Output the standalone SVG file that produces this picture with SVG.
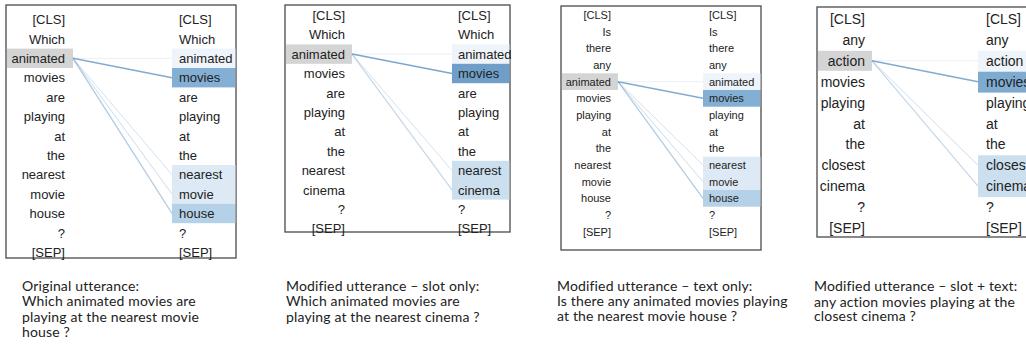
<svg xmlns="http://www.w3.org/2000/svg" width="1026" height="353" viewBox="0 0 1026 353">
<style>
.frame{fill:none;stroke:#4a4a4a;stroke-width:1.3}
.tk{font-family:"Liberation Sans",Arial,sans-serif;fill:#222}
.f13{font-size:13px}.f11{font-size:11px}.f14{font-size:14px}
.L{text-anchor:end}
.sel{fill:#d4d4d4}
.w1{fill:#eef4f9}.w2{fill:#dde9f4}.w3{fill:#b4d1e7}.w4{fill:#82afd3}.w5{fill:#cbdfee}
.cap{font-family:Lato,"Liberation Sans",sans-serif;font-size:14px;letter-spacing:0.15px;fill:#222}
.ln{stroke:#6d9cc6;fill:none}
</style>
<rect width="1026" height="353" fill="#fff"/>

<!-- Panel 1 -->
<g id="panel1">
<rect class="frame" x="6" y="5" width="230" height="253"/>
<rect class="sel" x="7" y="48.6" width="66" height="19.4"/>
<rect class="w1" x="172" y="48.6" width="63.4" height="19.4"/>
<rect class="w4" x="172" y="68" width="63.4" height="19.4"/>
<rect class="w2" x="172" y="165" width="63.4" height="38.8"/>
<rect class="w3" x="172" y="203.8" width="63.4" height="19.4"/>
<g class="tk f13 L">
<g id="p1-l0"><text x="65" y="24.1">[CLS]</text></g>
<g id="p1-l1"><text x="65" y="43.5">Which</text></g>
<g id="p1-l2"><text x="65" y="62.9">animated</text></g>
<g id="p1-l3"><text x="65" y="82.3">movies</text></g>
<g id="p1-l4"><text x="65" y="101.7">are</text></g>
<g id="p1-l5"><text x="65" y="121.1">playing</text></g>
<g id="p1-l6"><text x="65" y="140.5">at</text></g>
<g id="p1-l7"><text x="65" y="159.9">the</text></g>
<g id="p1-l8"><text x="65" y="179.3">nearest</text></g>
<g id="p1-l9"><text x="65" y="198.7">movie</text></g>
<g id="p1-l10"><text x="65" y="218.1">house</text></g>
<g id="p1-l11"><text x="65" y="237.5">?</text></g>
<g id="p1-l12"><text x="65" y="256.9">[SEP]</text></g>
</g>
<g class="tk f13">
<g id="p1-r0"><text x="179" y="24.1">[CLS]</text></g>
<g id="p1-r1"><text x="179" y="43.5">Which</text></g>
<g id="p1-r2"><text x="179" y="62.9">animated</text></g>
<g id="p1-r3"><text x="179" y="82.3">movies</text></g>
<g id="p1-r4"><text x="179" y="101.7">are</text></g>
<g id="p1-r5"><text x="179" y="121.1">playing</text></g>
<g id="p1-r6"><text x="179" y="140.5">at</text></g>
<g id="p1-r7"><text x="179" y="159.9">the</text></g>
<g id="p1-r8"><text x="179" y="179.3">nearest</text></g>
<g id="p1-r9"><text x="179" y="198.7">movie</text></g>
<g id="p1-r10"><text x="179" y="218.1">house</text></g>
<g id="p1-r11"><text x="179" y="237.5">?</text></g>
<g id="p1-r12"><text x="179" y="256.9">[SEP]</text></g>
</g>
</g>

<!-- Panel 2 -->
<g id="panel2">
<rect class="frame" x="285" y="5" width="225" height="227"/>
<rect class="sel" x="286" y="44.4" width="66" height="19.4"/>
<rect class="w1" x="452" y="44.4" width="57.4" height="19.4"/>
<rect fill="#6f9fc8" x="452" y="63.8" width="57.4" height="19.4"/>
<rect class="w5" x="452" y="160.8" width="57.4" height="38.8"/>
<g class="tk f13 L">
<g id="p2-l0"><text x="345" y="19.9">[CLS]</text></g>
<g id="p2-l1"><text x="345" y="39.3">Which</text></g>
<g id="p2-l2"><text x="345" y="58.7">animated</text></g>
<g id="p2-l3"><text x="345" y="78.1">movies</text></g>
<g id="p2-l4"><text x="345" y="97.5">are</text></g>
<g id="p2-l5"><text x="345" y="116.9">playing</text></g>
<g id="p2-l6"><text x="345" y="136.3">at</text></g>
<g id="p2-l7"><text x="345" y="155.7">the</text></g>
<g id="p2-l8"><text x="345" y="175.1">nearest</text></g>
<g id="p2-l9"><text x="345" y="194.5">cinema</text></g>
<g id="p2-l10"><text x="345" y="213.9">?</text></g>
<g id="p2-l11"><text x="345" y="233.3">[SEP]</text></g>
</g>
<g class="tk f13">
<g id="p2-r0"><text x="458" y="19.9">[CLS]</text></g>
<g id="p2-r1"><text x="458" y="39.3">Which</text></g>
<g id="p2-r2"><text x="458" y="58.7">animated</text></g>
<g id="p2-r3"><text x="458" y="78.1">movies</text></g>
<g id="p2-r4"><text x="458" y="97.5">are</text></g>
<g id="p2-r5"><text x="458" y="116.9">playing</text></g>
<g id="p2-r6"><text x="458" y="136.3">at</text></g>
<g id="p2-r7"><text x="458" y="155.7">the</text></g>
<g id="p2-r8"><text x="458" y="175.1">nearest</text></g>
<g id="p2-r9"><text x="458" y="194.5">cinema</text></g>
<g id="p2-r10"><text x="458" y="213.9">?</text></g>
<g id="p2-r11"><text x="458" y="233.3">[SEP]</text></g>
</g>
</g>

<!-- Panel 3 -->
<g id="panel3">
<rect class="frame" x="561" y="6" width="200" height="244"/>
<rect class="sel" x="562" y="73.3" width="56" height="16.7"/>
<rect class="w1" x="703" y="73.3" width="57.4" height="16.7"/>
<rect class="w4" x="703" y="90" width="57.4" height="16.7"/>
<rect class="w2" x="703" y="156.7" width="57.4" height="33.3"/>
<rect class="w3" x="703" y="190" width="57.4" height="16.7"/>
<g class="tk f11 L">
<g id="p3-l0"><text x="611" y="18.9">[CLS]</text></g>
<g id="p3-l1"><text x="611" y="35.6">Is</text></g>
<g id="p3-l2"><text x="611" y="52.2">there</text></g>
<g id="p3-l3"><text x="611" y="68.9">any</text></g>
<g id="p3-l4"><text x="611" y="85.6">animated</text></g>
<g id="p3-l5"><text x="611" y="102.2">movies</text></g>
<g id="p3-l6"><text x="611" y="118.9">playing</text></g>
<g id="p3-l7"><text x="611" y="135.6">at</text></g>
<g id="p3-l8"><text x="611" y="152.2">the</text></g>
<g id="p3-l9"><text x="611" y="168.9">nearest</text></g>
<g id="p3-l10"><text x="611" y="185.6">movie</text></g>
<g id="p3-l11"><text x="611" y="202.2">house</text></g>
<g id="p3-l12"><text x="611" y="218.9">?</text></g>
<g id="p3-l13"><text x="611" y="235.6">[SEP]</text></g>
</g>
<g class="tk f11">
<g id="p3-r0"><text x="709" y="18.9">[CLS]</text></g>
<g id="p3-r1"><text x="709" y="35.6">Is</text></g>
<g id="p3-r2"><text x="709" y="52.2">there</text></g>
<g id="p3-r3"><text x="709" y="68.9">any</text></g>
<g id="p3-r4"><text x="709" y="85.6">animated</text></g>
<g id="p3-r5"><text x="709" y="102.2">movies</text></g>
<g id="p3-r6"><text x="709" y="118.9">playing</text></g>
<g id="p3-r7"><text x="709" y="135.6">at</text></g>
<g id="p3-r8"><text x="709" y="152.2">the</text></g>
<g id="p3-r9"><text x="709" y="168.9">nearest</text></g>
<g id="p3-r10"><text x="709" y="185.6">movie</text></g>
<g id="p3-r11"><text x="709" y="202.2">house</text></g>
<g id="p3-r12"><text x="709" y="218.9">?</text></g>
<g id="p3-r13"><text x="709" y="235.6">[SEP]</text></g>
</g>
</g>

<!-- Panel 4 -->
<g id="panel4">
<rect class="frame" x="817" y="7" width="220" height="230"/>
<rect class="sel" x="818" y="50.8" width="54" height="20"/>
<rect class="w1" x="978" y="50.8" width="60" height="20.9"/>
<rect fill="#7eabd0" x="978" y="71.7" width="60" height="20.9"/>
<rect class="w5" x="978" y="155.3" width="60" height="41.8"/>
<g class="tk f14 L">
<g id="p4-l0"><text x="865" y="24">[CLS]</text></g>
<g id="p4-l1"><text x="865" y="44.9">any</text></g>
<g id="p4-l2"><text x="865" y="65.8">action</text></g>
<g id="p4-l3"><text x="865" y="86.7">movies</text></g>
<g id="p4-l4"><text x="865" y="107.6">playing</text></g>
<g id="p4-l5"><text x="865" y="128.5">at</text></g>
<g id="p4-l6"><text x="865" y="149.4">the</text></g>
<g id="p4-l7"><text x="865" y="170.3">closest</text></g>
<g id="p4-l8"><text x="865" y="191.2">cinema</text></g>
<g id="p4-l9"><text x="865" y="212.1">?</text></g>
<g id="p4-l10"><text x="865" y="233">[SEP]</text></g>
</g>
<g class="tk f14">
<g id="p4-r0"><text x="986" y="24">[CLS]</text></g>
<g id="p4-r1"><text x="986" y="44.9">any</text></g>
<g id="p4-r2"><text x="986" y="65.8">action</text></g>
<g id="p4-r3"><text x="986" y="86.7">movies</text></g>
<g id="p4-r4"><text x="986" y="107.6">playing</text></g>
<g id="p4-r5"><text x="986" y="128.5">at</text></g>
<g id="p4-r6"><text x="986" y="149.4">the</text></g>
<g id="p4-r7"><text x="986" y="170.3">closest</text></g>
<g id="p4-r8"><text x="986" y="191.2">cinema</text></g>
<g id="p4-r9"><text x="986" y="212.1">?</text></g>
<g id="p4-r10"><text x="986" y="233">[SEP]</text></g>
</g>
</g>

<!-- Connectors -->
<g id="connectors">
<path class="ln" stroke-width="1" stroke-opacity="0.15" d="M73 58.3L172 58.3"/>
<path class="ln" stroke-width="1.5" stroke-opacity="0.85" d="M73 58.3L172 77.7"/>
<path class="ln" stroke-width="1" stroke-opacity="0.3" d="M73 58.3L172 174.7"/>
<path class="ln" stroke-width="1" stroke-opacity="0.35" d="M73 58.3L172 194.1"/>
<path class="ln" stroke-width="1.3" stroke-opacity="0.55" d="M73 58.3L172 213.5"/>

<path class="ln" stroke-width="1" stroke-opacity="0.15" d="M352 54.1L452 54.1"/>
<path class="ln" stroke-width="1.5" stroke-opacity="0.9" d="M352 54.1L452 73.5"/>
<path class="ln" stroke-width="1" stroke-opacity="0.3" d="M352 54.1L452 170.5"/>
<path class="ln" stroke-width="1.2" stroke-opacity="0.4" d="M352 54.1L452 189.9"/>

<path class="ln" stroke-width="1" stroke-opacity="0.15" d="M618 81.7L703 81.7"/>
<path class="ln" stroke-width="1.4" stroke-opacity="0.85" d="M618 81.7L703 98.3"/>
<path class="ln" stroke-width="1" stroke-opacity="0.3" d="M618 81.7L703 165"/>
<path class="ln" stroke-width="1" stroke-opacity="0.35" d="M618 81.7L703 181.7"/>
<path class="ln" stroke-width="1.2" stroke-opacity="0.55" d="M618 81.7L703 198.3"/>

<path class="ln" stroke-width="1" stroke-opacity="0.15" d="M872 60.8L978 60.8"/>
<path class="ln" stroke-width="1.5" stroke-opacity="0.85" d="M872 60.8L978 81.7"/>
<path class="ln" stroke-width="1" stroke-opacity="0.35" d="M872 60.8L978 165.3"/>
<path class="ln" stroke-width="1.2" stroke-opacity="0.4" d="M872 60.8L978 186.2"/>
</g>

<!-- Captions -->
<g id="captions" class="cap">
<text x="22" y="291">Original utterance:</text>
<text x="22" y="306">Which animated movies are</text>
<text x="22" y="321.5">playing at the nearest movie</text>
<text x="22" y="336.5">house ?</text>
<text x="286" y="291">Modified utterance – slot only:</text>
<text x="286" y="306">Which animated movies are</text>
<text x="286" y="321.5">playing at the nearest cinema ?</text>
<text x="557" y="291">Modified utterance – text only:</text>
<text x="557" y="306">Is there any animated movies playing</text>
<text x="557" y="321">at the nearest movie house ?</text>
<text x="814" y="291">Modified utterance – slot + text:</text>
<text x="814" y="306.5">any action movies playing at the</text>
<text x="814" y="321">closest cinema ?</text>
</g>
</svg>
